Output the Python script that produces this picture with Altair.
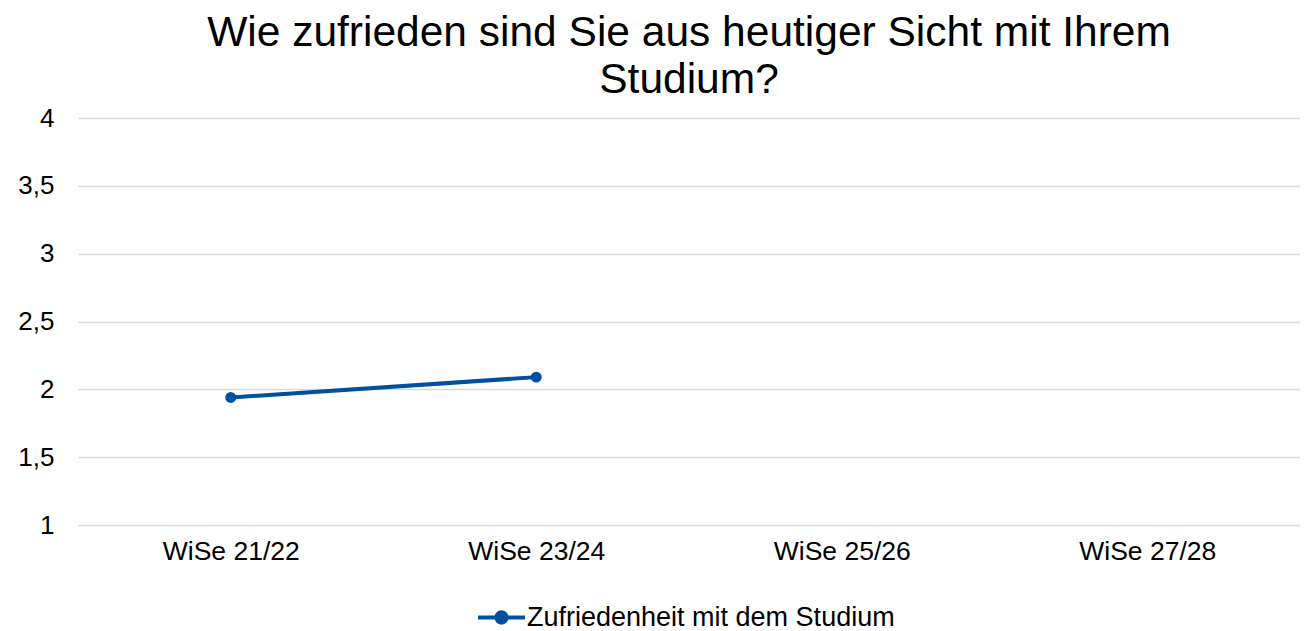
import altair as alt
import pandas as pd

categories = ["WiSe 21/22", "WiSe 23/24", "WiSe 25/26", "WiSe 27/28"]
values = [1.94, 2.09, None, None]
series_name = "Zufriedenheit mit dem Studium"

df = pd.DataFrame({"Semester": categories, "Wert": values, "Serie": [series_name] * len(categories)})

FONT = "Liberation Sans"
BLUE = "#0050a0"

x = alt.X("Semester:N", sort=categories, title=None,
          scale=alt.Scale(domain=categories, type="point", padding=0.5),
          axis=alt.Axis(labelAngle=0, labelFontSize=26.5, labelColor="#000000", labelFont=FONT,
                        ticks=False, domain=False, labelPadding=13, grid=False))
y = alt.Y("Wert:Q", title=None,
          scale=alt.Scale(domain=[1, 4], nice=False, zero=False),
          axis=alt.Axis(values=[1, 1.5, 2, 2.5, 3, 3.5, 4],
                        labelExpr="replace(format(datum.value, '.1~f'), '.', ',')",
                        labelFontSize=26, labelColor="#000000", labelFont=FONT,
                        ticks=False, domain=False, labelPadding=24,
                        gridColor="#d9d9d9", gridWidth=1.5))
color = alt.Color("Serie:N", title=None,
                  scale=alt.Scale(domain=[series_name], range=[BLUE]),
                  legend=alt.Legend(orient="none", legendX=398, legendY=474, padding=0,
                                    symbolType="M-1,0L1,0M-0.22,0A0.22,0.22 0 1 1 0.22,0A0.22,0.22 0 1 1 -0.22,0Z",
                                    symbolSize=2209, symbolStrokeWidth=4, symbolFillColor=BLUE,
                                    symbolStrokeColor=BLUE, symbolOpacity=1,
                                    labelFontSize=27, labelFont=FONT, labelColor="#000000",
                                    labelOffset=0, labelLimit=600))

base = alt.Chart(df).encode(x=x, y=y, color=color)
line = base.mark_line(strokeWidth=4)
points = base.mark_point(filled=True, size=120, opacity=1)

chart = alt.layer(line, points).properties(
    width=1222, height=407,
    title=alt.TitleParams(text=["Wie zufrieden sind Sie aus heutiger Sicht mit Ihrem", "Studium?"],
                          fontSize=42.5, font=FONT, fontWeight="normal", color="#000000",
                          anchor="middle", frame="group", lineHeight=47, offset=4),
    autosize=alt.AutoSizeParams(type="none"),
    padding={"left": 70, "top": 110, "right": 0, "bottom": 108},
).configure_view(stroke=None)

chart.save("out.html", embed_options={"renderer": "svg", "actions": False})
